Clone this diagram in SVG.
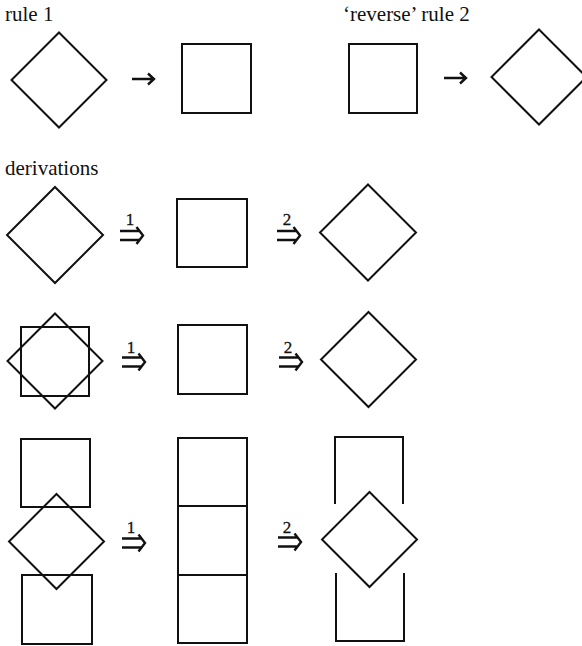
<svg xmlns="http://www.w3.org/2000/svg" xmlns:xlink="http://www.w3.org/1999/xlink" width="582" height="646" viewBox="0 0 582 646">
  <style>
    .shape { fill: none; stroke: #111; stroke-width: 2; stroke-linejoin: miter; }
    .arrow { fill: none; stroke: #111; stroke-width: 2.4; stroke-linecap: butt; }
    .title { font-family: "Liberation Serif", "Times New Roman", serif; font-size: 21px; fill: #111; }
    .step { font-family: "Liberation Serif", "Times New Roman", serif; font-size: 17px; fill: #111; text-anchor: middle; stroke: #111; stroke-width: 0.3; }
  </style>
  <defs>
    <!-- single rewrite arrow, origin at the tail -->
    <path id="arrow1" class="arrow" d="M0,0 H21.5 M16,-5.5 L22,0 L16,5.5"/>
    <!-- double derivation arrow, origin at the tail -->
    <path id="arrow2" class="arrow" d="M0,-4.5 H19.5 M0,4.5 H19.5 M16.5,-8.5 L23,0 L16.5,8.5"/>
  </defs>

  <rect width="582" height="646" fill="#fff"/>

  <!-- headings -->
  <text class="title" x="5" y="21">rule 1</text>
  <text class="title" x="343" y="21">‘reverse’ rule 2</text>
  <text class="title" x="5" y="175">derivations</text>

  <!-- rule 1 -->
  <g id="rule1-lhs"><polygon class="shape" points="59,32.5 106.5,80 59,127.5 11.5,80"/></g>
  <g id="rule1-rhs"><rect class="shape" x="182" y="44" width="69" height="69"/></g>

  <!-- reverse rule 2 -->
  <g id="rule2-lhs"><rect class="shape" x="349" y="44" width="68" height="69"/></g>
  <g id="rule2-rhs"><polygon class="shape" points="539,29.5 586.5,77 539,124.5 491.5,77"/></g>

  <!-- derivation 1 -->
  <g id="d1-start"><polygon class="shape" points="55,187 103,235 55,283 7,235"/></g>
  <g id="d1-mid"><rect class="shape" x="177" y="199" width="70" height="68"/></g>
  <g id="d1-end"><polygon class="shape" points="368,184.5 416,232.5 368,280.5 320,232.5"/></g>

  <!-- derivation 2 -->
  <g id="d2-start">
    <polygon class="shape" points="55,313.5 102.5,361 55,408.5 7.5,361"/>
    <rect class="shape" x="21" y="327" width="68" height="69"/>
  </g>
  <g id="d2-mid"><rect class="shape" x="178" y="325" width="69" height="69"/></g>
  <g id="d2-end"><polygon class="shape" points="368.5,312 416,359.5 368.5,407 321,359.5"/></g>

  <!-- derivation 3 -->
  <g id="d3-start">
    <rect class="shape" x="21" y="439" width="69" height="68"/>
    <polygon class="shape" points="56.5,494 104,541.5 56.5,589 9,541.5"/>
    <rect class="shape" x="22" y="575" width="70" height="69"/>
  </g>
  <g id="d3-mid">
    <rect class="shape" x="178" y="438" width="69" height="68"/>
    <rect class="shape" x="178" y="506" width="69" height="69"/>
    <rect class="shape" x="178" y="575" width="69" height="68"/>
  </g>
  <g id="d3-end">
    <path class="shape" d="M335,504 V437 H403 V504"/>
    <polygon class="shape" points="369.5,492 417,539.5 369.5,587 322,539.5"/>
    <path class="shape" d="M336,573 V641 H404 V573"/>
  </g>

  <!-- connectors -->
  <g id="connectors">
    <use xlink:href="#arrow1" x="132" y="79"/>
    <use xlink:href="#arrow1" x="444" y="78"/>

    <use xlink:href="#arrow2" x="120" y="235.5"/>
    <text class="step" x="130" y="225">1</text>
    <use xlink:href="#arrow2" x="277" y="235.5"/>
    <text class="step" x="287" y="225">2</text>

    <use xlink:href="#arrow2" x="122" y="362"/>
    <text class="step" x="131" y="353">1</text>
    <use xlink:href="#arrow2" x="279" y="362"/>
    <text class="step" x="288" y="353">2</text>

    <use xlink:href="#arrow2" x="122" y="543"/>
    <text class="step" x="131" y="533">1</text>
    <use xlink:href="#arrow2" x="278" y="542"/>
    <text class="step" x="287" y="533">2</text>
  </g>
</svg>
